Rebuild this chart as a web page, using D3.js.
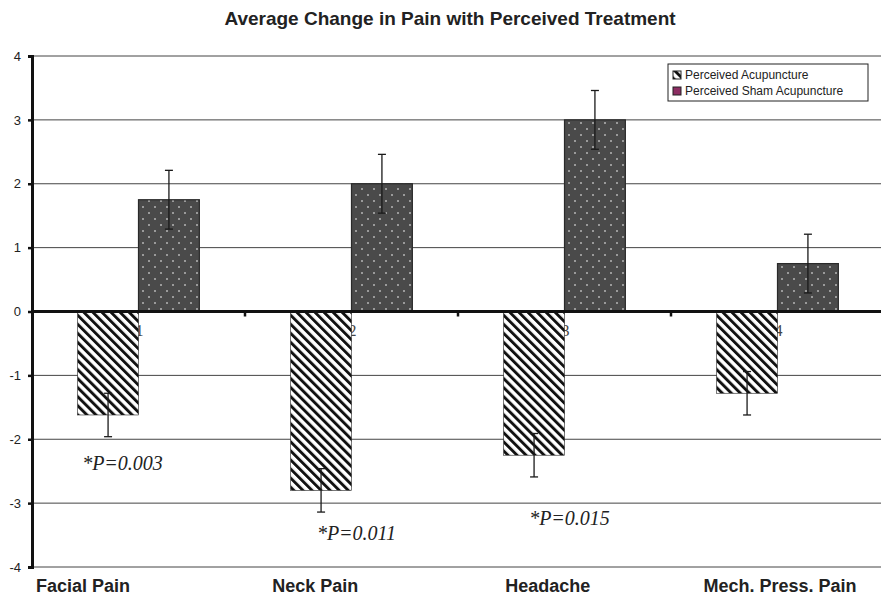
<!DOCTYPE html>
<html>
<head>
<meta charset="utf-8">
<script src="https://cdn.jsdelivr.net/npm/d3@7"></script>
<style>
body { margin: 0; background: #fff; }
svg { display: block; }
</style>
</head>
<body>
<svg id="chart" width="881" height="601"></svg>
<script>
// data
var categories = ["1", "2", "3", "4"];
var categoryNames = ["Facial Pain", "Neck Pain", "Headache", "Mech. Press. Pain"];
var seriesNames = ["Perceived Acupuncture", "Perceived Sham Acupuncture"];
var acuValues = [-1.62, -2.80, -2.25, -1.28];
var acuErrors = [0.34, 0.34, 0.34, 0.34];
var shamValues = [1.75, 2.00, 3.00, 0.75];
var shamErrors = [0.46, 0.46, 0.46, 0.46];
var yTicks = [-4, -3, -2, -1, 0, 1, 2, 3, 4];
var pLabels = ["*P=0.003", "*P=0.011", "*P=0.015", ""];
var pLabelY = [-2.48, -3.58, -3.34, 0];

var svg = d3.select("#chart");
var plotLeft = 32, plotTop = 56, plotBottom = 567;

var x = d3.scaleBand().domain(categories).range([plotLeft, 884]);
// gap width 150% => 0.75 bar of space on each side of the pair
var x1 = d3.scaleBand().domain(seriesNames)
    .range([x.bandwidth() * 0.75 / 3.5, x.bandwidth() * 2.75 / 3.5]);
var y = d3.scaleLinear().domain([-4, 4]).range([plotBottom, plotTop]);
var xText = d3.scalePoint().domain(categoryNames).range([83, 780]);

var defs = svg.append("defs");
var hatch = defs.append("pattern")
    .attr("id", "hatch")
    .attr("patternUnits", "userSpaceOnUse")
    .attr("width", 6.4).attr("height", 6.4)
    .attr("patternTransform", "rotate(-45)");
hatch.append("rect").attr("width", 6.4).attr("height", 6.4).attr("fill", "#fff");
hatch.append("rect").attr("width", 2.9).attr("height", 6.4).attr("fill", "#111");

var dots = defs.append("pattern")
    .attr("id", "dots")
    .attr("patternUnits", "userSpaceOnUse")
    .attr("width", 12).attr("height", 12);
dots.append("rect").attr("width", 12).attr("height", 12).attr("fill", "#4a4a4a");
dots.append("rect").attr("x", 2).attr("y", 2).attr("width", 2).attr("height", 2).attr("fill", "#9a9a9a");
dots.append("rect").attr("x", 8).attr("y", 8).attr("width", 2).attr("height", 2).attr("fill", "#9a9a9a");

// title
svg.append("text")
    .attr("x", 450).attr("y", 25)
    .attr("text-anchor", "middle")
    .style("font-family", "Liberation Sans, Arial, sans-serif")
    .style("font-weight", "bold")
    .style("font-size", "19px")
    .attr("fill", "#222")
    .text("Average Change in Pain with Perceived Treatment");

// gridlines
svg.append("g")
    .selectAll("line")
    .data(yTicks.filter(function(d) { return d !== 0; }))
    .enter()
    .append("line")
    .attr("x1", plotLeft).attr("x2", 881)
    .attr("y1", function(d) { return y(d); })
    .attr("y2", function(d) { return y(d); })
    .attr("stroke", "#444")
    .attr("stroke-width", 1);

// y axis
var yAxis = svg.append("g")
    .attr("transform", "translate(" + plotLeft + ",0)")
    .call(d3.axisLeft(y).tickValues(yTicks).tickSize(4).tickFormat(function(d) { return String(d); }));
yAxis.select(".domain").attr("stroke", "#111").attr("stroke-width", 3);
yAxis.selectAll(".tick line").attr("stroke", "#111").attr("stroke-width", 2.5);
yAxis.selectAll(".tick text")
    .attr("x", -11)
    .style("font-family", "Liberation Sans, Arial, sans-serif")
    .style("font-size", "13px")
    .attr("fill", "#222");

// category numbers under zero line (sit behind the bars)
svg.append("g")
    .selectAll("text")
    .data(categories)
    .enter()
    .append("text")
    .attr("x", function(d) { return x(d) + x.bandwidth() / 2 + 1; })
    .attr("y", y(0) + 24)
    .attr("text-anchor", "middle")
    .style("font-family", "Liberation Serif, Times New Roman, serif")
    .style("font-size", "16px")
    .attr("fill", "#444")
    .text(function(d) { return d; });

// bars
var rows = categories.map(function(c, i) {
    return {cat: c, acu: acuValues[i], acuErr: acuErrors[i], sham: shamValues[i], shamErr: shamErrors[i]};
});

var group = svg.append("g")
    .selectAll("g")
    .data(rows)
    .enter()
    .append("g")
    .attr("transform", function(d) { return "translate(" + x(d.cat) + ",0)"; });

group.append("rect")
    .attr("x", x1(seriesNames[0]))
    .attr("width", x1.bandwidth())
    .attr("y", function(d) { return y(Math.max(0, d.acu)); })
    .attr("height", function(d) { return Math.abs(y(d.acu) - y(0)); })
    .attr("fill", "url(#hatch)")
    .attr("stroke", "#222")
    .attr("stroke-width", 0.6);

group.append("rect")
    .attr("x", x1(seriesNames[1]))
    .attr("width", x1.bandwidth())
    .attr("y", function(d) { return y(Math.max(0, d.sham)); })
    .attr("height", function(d) { return Math.abs(y(d.sham) - y(0)); })
    .attr("fill", "url(#dots)")
    .attr("stroke", "#2a2a2a")
    .attr("stroke-width", 1.2);

// error bars
function errorBar(sel, key, errKey, series) {
    var cx = x1(series) + x1.bandwidth() / 2;
    var eb = sel.append("g").attr("stroke", "#1a1a1a").attr("stroke-width", 1.3);
    eb.append("line")
        .attr("x1", cx).attr("x2", cx)
        .attr("y1", function(d) { return y(d[key] + d[errKey]); })
        .attr("y2", function(d) { return y(d[key] - d[errKey]); });
    eb.append("line")
        .attr("x1", cx - 4).attr("x2", cx + 4)
        .attr("y1", function(d) { return y(d[key] + d[errKey]); })
        .attr("y2", function(d) { return y(d[key] + d[errKey]); });
    eb.append("line")
        .attr("x1", cx - 4).attr("x2", cx + 4)
        .attr("y1", function(d) { return y(d[key] - d[errKey]); })
        .attr("y2", function(d) { return y(d[key] - d[errKey]); });
}
errorBar(group, "acu", "acuErr", seriesNames[0]);
errorBar(group, "sham", "shamErr", seriesNames[1]);

// zero line + category ticks
svg.append("line")
    .attr("x1", plotLeft).attr("x2", 881)
    .attr("y1", y(0)).attr("y2", y(0))
    .attr("stroke", "#111")
    .attr("stroke-width", 3);
svg.append("g")
    .selectAll("line")
    .data(categories.slice(1))
    .enter()
    .append("line")
    .attr("x1", function(d) { return x(d); })
    .attr("x2", function(d) { return x(d); })
    .attr("y1", y(0)).attr("y2", y(0) + 5)
    .attr("stroke", "#111")
    .attr("stroke-width", 2.5);

// p-value notes
svg.append("g")
    .selectAll("text")
    .data(categories.filter(function(c, i) { return pLabels[i] !== ""; }))
    .enter()
    .append("text")
    .attr("x", function(d, i) { return x(d) + x.bandwidth() / 2 + (i === 0 ? -16 : 5); })
    .attr("y", function(d, i) { return y(pLabelY[i]); })
    .attr("text-anchor", "middle")
    .style("font-family", "Liberation Serif, Times New Roman, serif")
    .style("font-style", "italic")
    .style("font-size", "20px")
    .attr("fill", "#222")
    .text(function(d, i) { return pLabels[i]; });

// category names
svg.append("g")
    .selectAll("text")
    .data(categoryNames)
    .enter()
    .append("text")
    .attr("x", function(d) { return xText(d); })
    .attr("y", 592)
    .attr("text-anchor", "middle")
    .style("font-family", "Liberation Sans Narrow, Arial Narrow, Liberation Sans, sans-serif")
    .style("font-weight", "bold")
    .style("font-size", "18px")
    .attr("fill", "#222")
    .text(function(d) { return d; });

// legend
var legend = svg.append("g").attr("transform", "translate(668,64)");
legend.append("rect")
    .attr("width", 200).attr("height", 37)
    .attr("fill", "#fff")
    .attr("stroke", "#222")
    .attr("stroke-width", 1);
var item = legend.selectAll(".item")
    .data(seriesNames)
    .enter()
    .append("g")
    .attr("class", "item")
    .attr("transform", function(d, i) { return "translate(5," + (7 + i * 16) + ")"; });
item.append("rect")
    .attr("width", 8).attr("height", 8)
    .attr("fill", function(d, i) { return i === 0 ? "url(#hatch)" : "#8c2d62"; })
    .attr("stroke", "#222")
    .attr("stroke-width", 1);
item.append("text")
    .attr("x", 12).attr("y", 8)
    .style("font-family", "Liberation Sans, Arial, sans-serif")
    .style("font-size", "12px")
    .attr("fill", "#222")
    .text(function(d) { return d; });
</script>
</body>
</html>
